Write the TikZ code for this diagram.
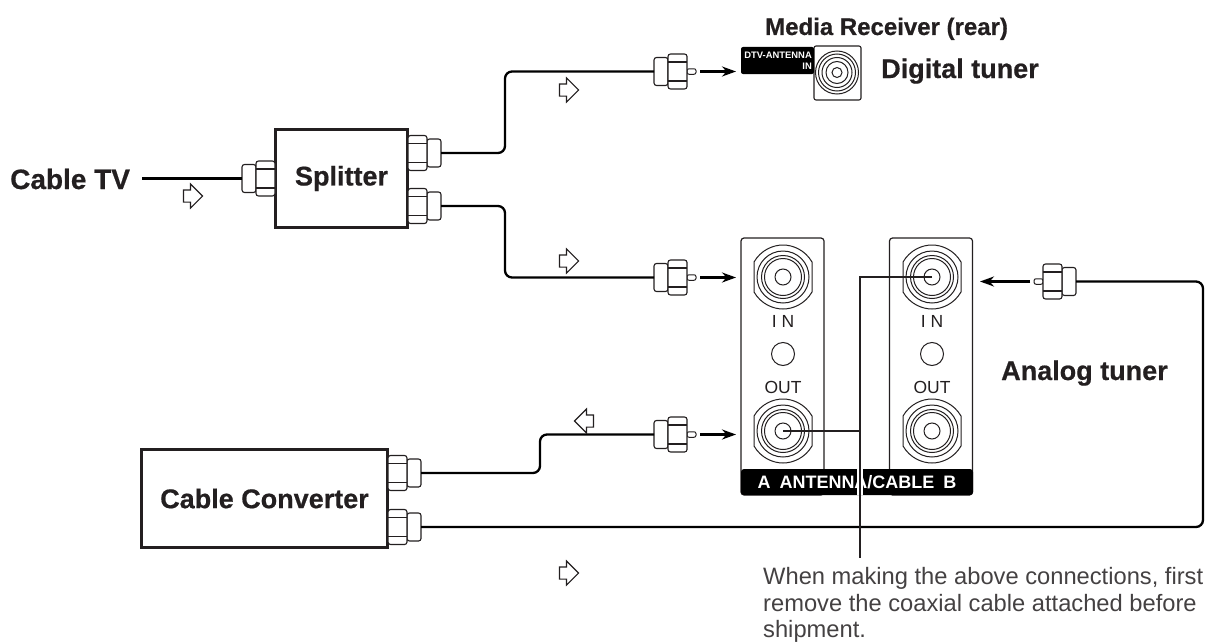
\documentclass[tikz,border=0pt]{standalone}
\usepackage{fontspec}
\setmainfont{Liberation Sans}
\newfontfamily\heavyface[FakeBold=0.6]{Liberation Sans Bold}
\usetikzlibrary{positioning, arrows.meta, shapes.arrows, calc}
\definecolor{inkblack}{HTML}{231F20}
\tikzset{
  partbox/.style={draw=inkblack,line width=2.4pt,fill=white,inner sep=0pt,outer sep=0pt,font=\fontsize{27}{30}\heavyface,text=inkblack},
  lbl/.style={inner sep=0pt,font=\fontsize{27}{30}\heavyface,text=inkblack},
  nut/.style={draw=inkblack,line width=1.1pt,fill=white,rounded corners=2.5pt,inner sep=0pt,outer sep=0pt,minimum width=19pt,minimum height=35pt},
  sleeve/.style={draw=inkblack,line width=1.1pt,fill=white,rounded corners=2.5pt,inner sep=0pt,outer sep=0pt,minimum width=14pt,minimum height=28pt},
  pinnode/.style={draw=inkblack,line width=1pt,fill=white,rounded corners=2pt,inner sep=0pt,outer sep=0pt,minimum width=9pt,minimum height=5.5pt},
  cable/.style={draw=black,line width=2.3pt,rounded corners=7pt},
  feed/.style={-{Stealth[length=14pt,width=10pt]},line width=2.4pt,draw=black,shorten <=4pt},
  sigflow/.style={single arrow,draw=inkblack,line width=1.1pt,fill=white,inner xsep=0pt,inner ysep=5.5pt,minimum width=23pt,minimum height=19pt,single arrow head extend=6pt,single arrow tip angle=90},
  ring/.style={circle,draw=inkblack,line width=1pt,inner sep=0pt,outer sep=0pt,fill=white},
  panel/.style={draw=inkblack,line width=1.2pt,fill=white,rounded corners=3pt,inner sep=0pt,outer sep=0pt,minimum width=83pt,minimum height=257pt},
  jacktext/.style={inner sep=0pt,font=\fontsize{17.5}{20}\selectfont,text=inkblack},
  leader/.style={draw=inkblack,line width=1.3pt},
  pics/plugbox/.style={code={
    \node[sleeve] (-sleeve) at (26,0) {};
    \node[nut] (-nut) at (9.5,0) {};
    \draw[line width=1.1pt,draw=inkblack] (0,-9.5) -- (19,-9.5) (0,9.5) -- (19,9.5);
  }},
  pics/plugpin/.style={code={
    \node[pinnode] (-pin) at (-4.5,0) {};
    \node[sleeve] (-sleeve) at (26,0) {};
    \node[nut] (-nut) at (9.5,0) {};
    \draw[line width=1.1pt,draw=inkblack] (0,-9.5) -- (19,-9.5) (0,9.5) -- (19,9.5);
  }},
  pics/rearjack/.style={code={
    \draw[line width=1pt,draw=inkblack,fill=white] (-29,-15) .. controls (-22,-27) and (-10,-32) .. (0,-32) .. controls (10,-32) and (22,-27) .. (29,-15) -- (29,15) .. controls (22,27) and (10,32) .. (0,32) .. controls (-10,32) and (-22,27) .. (-29,15) -- cycle;
    \node[ring,minimum size=52pt] (-a) at (0,0) {};
    \node[ring,minimum size=43pt] (-b) at (0,0) {};
    \node[ring,minimum size=37pt] (-c) at (0,0) {};
    \node[ring,minimum size=16pt] (-d) at (0,0) {};
  }},
}
\begin{document}
\begin{tikzpicture}[x=1pt,y=-1pt]
  \useasboundingbox (0,0) rectangle (1209,642);
  % boxes
  \node[partbox,minimum width=132pt,minimum height=98pt] (splitter) at (341.5,178.5) {\raisebox{-1pt}{Splitter}};
  \node[partbox,minimum width=246pt,minimum height=98pt] (converter) at (264.5,498.5) {\raisebox{-2pt}{Cable Converter}};
  \node[lbl,anchor=base west,font=\fontsize{28}{30}\heavyface] (cabletv) at (10,189) {Cable TV};
  % plugs at the boxes
  \pic[xscale=-1] (splin) at (275,178.5) {plugbox};
  \pic (spa) at (408,153) {plugbox};
  \pic (spb) at (408,206) {plugbox};
  \pic (cva) at (388,473) {plugbox};
  \pic (cvb) at (388,527) {plugbox};
  % plugs at the receiver
  \pic[xscale=-1] (dtvplug) at (687,71.5) {plugpin};
  \pic[xscale=-1] (ainplug) at (687,277.5) {plugpin};
  \pic[xscale=-1] (aoutplug) at (687,434.5) {plugpin};
  \pic (binplug) at (1043,281.5) {plugpin};
  % digital input
  \node[lbl,anchor=base west,font=\fontsize{24}{27}\heavyface] (rearlbl) at (765,35) {Media Receiver (rear)};
  \node[draw=inkblack,line width=1.1pt,fill=white,rounded corners=2pt,minimum width=47pt,minimum height=54pt,inner sep=0pt,outer sep=0pt] (dtvsq) at (837.5,73) {};
  \node[fill=black,rounded corners=2pt,minimum width=73pt,minimum height=27pt,inner sep=0pt,outer sep=0pt] (dtvlabel) at (777.5,60.5) {};
  \node[text=white,inner sep=0pt,anchor=east,align=right,font=\fontsize{9.4}{11}\selectfont\bfseries] at (812,60.5) {DTV-ANTENNA\\IN};
  \node[ring,minimum size=43pt] (dtv1) at (837,72.5) {};
  \node[ring,minimum size=37pt] (dtv2) at (837,72.5) {};
  \node[ring,minimum size=30pt] (dtv3) at (837,72.5) {};
  \node[ring,minimum size=22pt] (dtv4) at (837,72.5) {};
  \node[ring,minimum size=10pt] (dtv5) at (837,72.5) {};
  \node[lbl,anchor=base west] (digital) at (881,78) {Digital tuner};
  % antenna panels
  \node[panel] (panela) at (782.5,366.5) {};
  \node[panel] (panelb) at (931,366.5) {};
  \node[fill=black,rounded corners=3pt,minimum width=232pt,minimum height=26pt,inner sep=0pt,outer sep=0pt,text=white,font=\fontsize{18}{20}\selectfont\bfseries] (strip) at (857,482) {A\enspace ANTENNA/CABLE\enspace B};
  \pic (ain) at (783,277) {rearjack};
  \pic (aout) at (783,431) {rearjack};
  \pic (bin) at (932,277) {rearjack};
  \pic (bout) at (932,431) {rearjack};
  \foreach \nm/\cx in {a/783,b/932}{
    \node[jacktext] (\nm intxt) at (\cx,321) {I N};
    \node[ring,minimum size=23pt] (\nm led) at (\cx,354) {};
    \node[jacktext] (\nm outtxt) at (\cx,387) {OUT};
  }
  \node[lbl,anchor=base west] (analog) at (1001,380) {Analog tuner};
  % cables
  \coordinate (benda) at (505,110);
  \coordinate (bendb) at (505,240);
  \coordinate (bendc) at (540,450);
  \coordinate (turn) at (1203,400);
  \coordinate (cablefree) at (142,178.5);
  \draw[cable] (cablefree) -- (splin-sleeve.west);
  \draw[cable] (spa-sleeve.east) -| (benda) |- (dtvplug-sleeve.west);
  \draw[cable] (spb-sleeve.east) -| (bendb) |- (ainplug-sleeve.west);
  \draw[cable] (cva-sleeve.east) -| (bendc) |- (aoutplug-sleeve.west);
  \draw[cable] (cvb-sleeve.east) -| (turn) |- (binplug-sleeve.east);
  % push arrows
  \coordinate (dtvhit) at (736,71.5);
  \coordinate (ainhit) at (736,277.5);
  \coordinate (aouthit) at (736,434.5);
  \coordinate (binhit) at (980,281.5);
  \draw[feed] (dtvplug-pin.east) -- (dtvhit);
  \draw[feed] (ainplug-pin.east) -- (ainhit);
  \draw[feed] (aoutplug-pin.east) -- (aouthit);
  \draw[feed] (binplug-pin.west) -- (binhit);
  % signal direction
  \node[sigflow] (flow1) at (190,196) {};
  \node[sigflow] (flow2) at (566,90) {};
  \node[sigflow] (flow3) at (566,261) {};
  \node[sigflow,shape border rotate=180] (flow4) at (587,421) {};
  \node[sigflow] (flow5) at (566,573) {};
  % note
  \node[anchor=north west,inner sep=0pt,align=left,text=inkblack!85,font=\fontsize{23.7}{26.3}\selectfont] (note) at (763,567.5) {When making the above connections, first\\remove the coaxial cable attached before\\shipment.};
  \coordinate (ldr) at (860,558);
  \draw[white,line width=6pt] (ldr |- strip.north) -- (ldr |- strip.south);
  \draw[leader] (bin-d.center) -| (ldr);
  \draw[leader] (aout-d.center) -- (aout-d.center -| ldr);
\end{tikzpicture}
\end{document}
